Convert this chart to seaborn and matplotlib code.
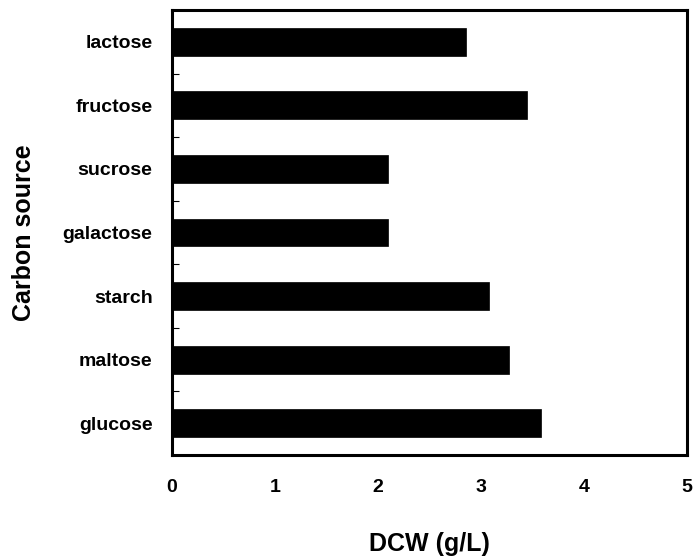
import matplotlib
matplotlib.use("Agg")
import matplotlib.pyplot as plt
import seaborn as sns
import pandas as pd
import numpy as np
from matplotlib.ticker import FixedLocator

categories = ["lactose", "fructose", "sucrose", "galactose", "starch", "maltose", "glucose"]
dcw = [2.85, 3.45, 2.10, 2.10, 3.08, 3.27, 3.58]
x_ticks = [0, 1, 2, 3, 4, 5]

df = pd.DataFrame({"Carbon source": categories, "DCW": dcw})

sns.set_theme(style="white")
plt.rcParams["font.family"] = ["Liberation Sans", "DejaVu Sans"]
plt.rcParams["font.weight"] = "bold"
plt.rcParams["text.color"] = "black"
plt.rcParams["axes.labelcolor"] = "black"

fig = plt.figure(figsize=(6.96, 5.6), dpi=100)
ax = fig.add_axes([172/696, 1-455/560, (687-172)/696, (455-10)/560])

sns.barplot(data=df, x="DCW", y="Carbon source", order=categories,
            color="black", width=0.44, ax=ax, saturation=1, edgecolor="black", linewidth=0.5)

ax.set_xlim(0, 5)
ax.set_ylim(len(categories)-0.5, -0.5)
ax.set_xticks(x_ticks)
ax.set_xticklabels([str(t) for t in x_ticks], fontsize=14, fontweight="bold")
ax.set_yticks(range(len(categories)))
ax.set_yticklabels(categories, fontsize=14, fontweight="bold")
ax.yaxis.set_minor_locator(FixedLocator(np.arange(-0.5, len(categories), 1.0)))

ax.tick_params(axis="x", which="major", direction="in", length=5, width=1.2, pad=17, colors="black")
ax.tick_params(axis="y", which="major", length=0, pad=14, colors="black")
ax.tick_params(axis="y", which="minor", direction="in", length=5, width=0.8, left=True, colors="black")

for s in ax.spines.values():
    s.set_visible(True)
    s.set_color("black")
    s.set_linewidth(2.2)

ax.set_xlabel("DCW (g/L)", fontsize=18, fontweight="bold", labelpad=26, color="black")
ax.set_ylabel("Carbon source", fontsize=18, fontweight="bold", labelpad=19, color="black")

fig.savefig("out.png", dpi=100)
